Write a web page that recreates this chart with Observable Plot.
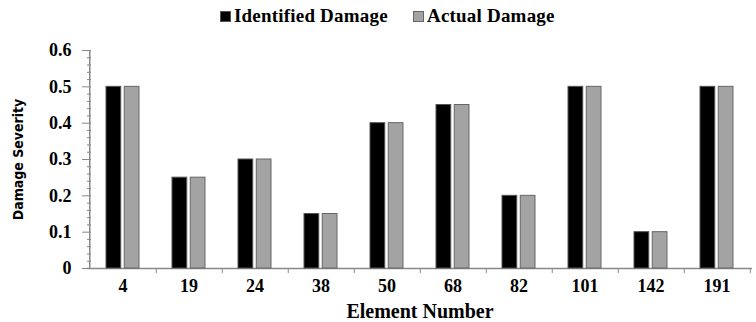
<!DOCTYPE html>
<html><head><meta charset="utf-8">
<script src="https://cdn.jsdelivr.net/npm/d3@7"></script>
<script src="https://cdn.jsdelivr.net/npm/@observablehq/plot@0.6"></script>
<style>
body{margin:0;background:#fff;font-family:"Liberation Serif","Times New Roman",serif;}
#wrap{position:relative;width:756px;}
#legend{height:32px;position:relative;font-weight:bold;font-size:19px;color:#000;}
.item{position:absolute;top:5px;display:flex;align-items:center;letter-spacing:0.2px;}
.sw{width:11px;height:11px;margin-right:3px;box-sizing:border-box;}
</style></head>
<body>
<div id="wrap">
<div id="legend">
  <div class="item" style="left:220px"><span class="sw" style="background:#000;border:1px solid #555"></span>Identified Damage</div>
  <div class="item" style="left:413px"><span class="sw" style="background:#a3a3a3;border:1px solid #666"></span>Actual Damage</div>
</div>
<div id="chart"></div>
</div>
<script>
const elements = ["4","19","24","38","50","68","82","101","142","191"];
const identified = [0.5,0.25,0.3,0.15,0.4,0.45,0.2,0.5,0.1,0.5];
const actual = [0.5,0.25,0.3,0.15,0.4,0.45,0.2,0.5,0.1,0.5];
const yTicks = [0,0.1,0.2,0.3,0.4,0.5,0.6];
const yMinor = d3.range(0,0.601,0.02).map(v=>+v.toFixed(2));

const W = 756, H = 290, ML = 87, MR = 4, MT = 18, MB = 54;
const step = (W-ML-MR)/elements.length;
const dataI = elements.map((e,i)=>({element:e, value:identified[i]}));
const dataA = elements.map((e,i)=>({element:e, value:actual[i]}));

const plot = Plot.plot({
  width: W, height: H, marginLeft: ML, marginRight: MR, marginTop: MT, marginBottom: MB,
  style: {fontFamily:"Liberation Serif", fontSize:"18px", fontWeight:"bold", color:"#000", background:"#fff", overflow:"visible"},
  x: {domain: elements, paddingInner: 0.5, paddingOuter: 0.25, axis: null},
  y: {domain: [0,0.6], axis: null},
  marks: [
    Plot.ruleY([0], {stroke:"#888", strokeWidth:1.5}),
    Plot.ruleX([0], {x: ()=>elements[0], dx: -step/2, y1: 0, y2: 0.6, stroke:"#888", strokeWidth:1.5}),
    Plot.barY(dataI, {x:"element", y:"value", insetRight: step/2 - 15, fill:"#000", stroke:"#555", strokeWidth:1}),
    Plot.barY(dataA, {x:"element", y:"value", insetLeft: step/2 - 15, fill:"#a3a3a3", stroke:"#666", strokeWidth:1}),
    Plot.axisY({ticks: yMinor, tickSize: -4, tickFormat: () => "", stroke:"#888", label: null}),
    Plot.axisY({ticks: yTicks, tickSize: 5, tickPadding: 11, stroke:"#888", tickFormat: d => d===0 ? "0" : d.toFixed(1), label: null, fontSize:18}),
    Plot.axisX({ticks: elements, tickSize: 5, dx: step/2, tickFormat: () => "", stroke:"#888", label: null}),
    Plot.axisX({ticks: elements, tickSize: 0, tickPadding: 11, label: null, fontSize:18}),
    Plot.text(["Damage Severity"], {frameAnchor:"left", textAnchor:"middle", rotate:-90, dx:-69, fontSize:14, fontWeight:"bold", fontFamily:"DejaVu Sans Condensed, sans-serif", fill:"#000"}),
    Plot.text(["Element Number"], {frameAnchor:"bottom", dy:49, fontSize:20, fontWeight:"bold", fill:"#000"})
  ]
});
document.getElementById("chart").appendChild(plot);
</script>
</body></html>
